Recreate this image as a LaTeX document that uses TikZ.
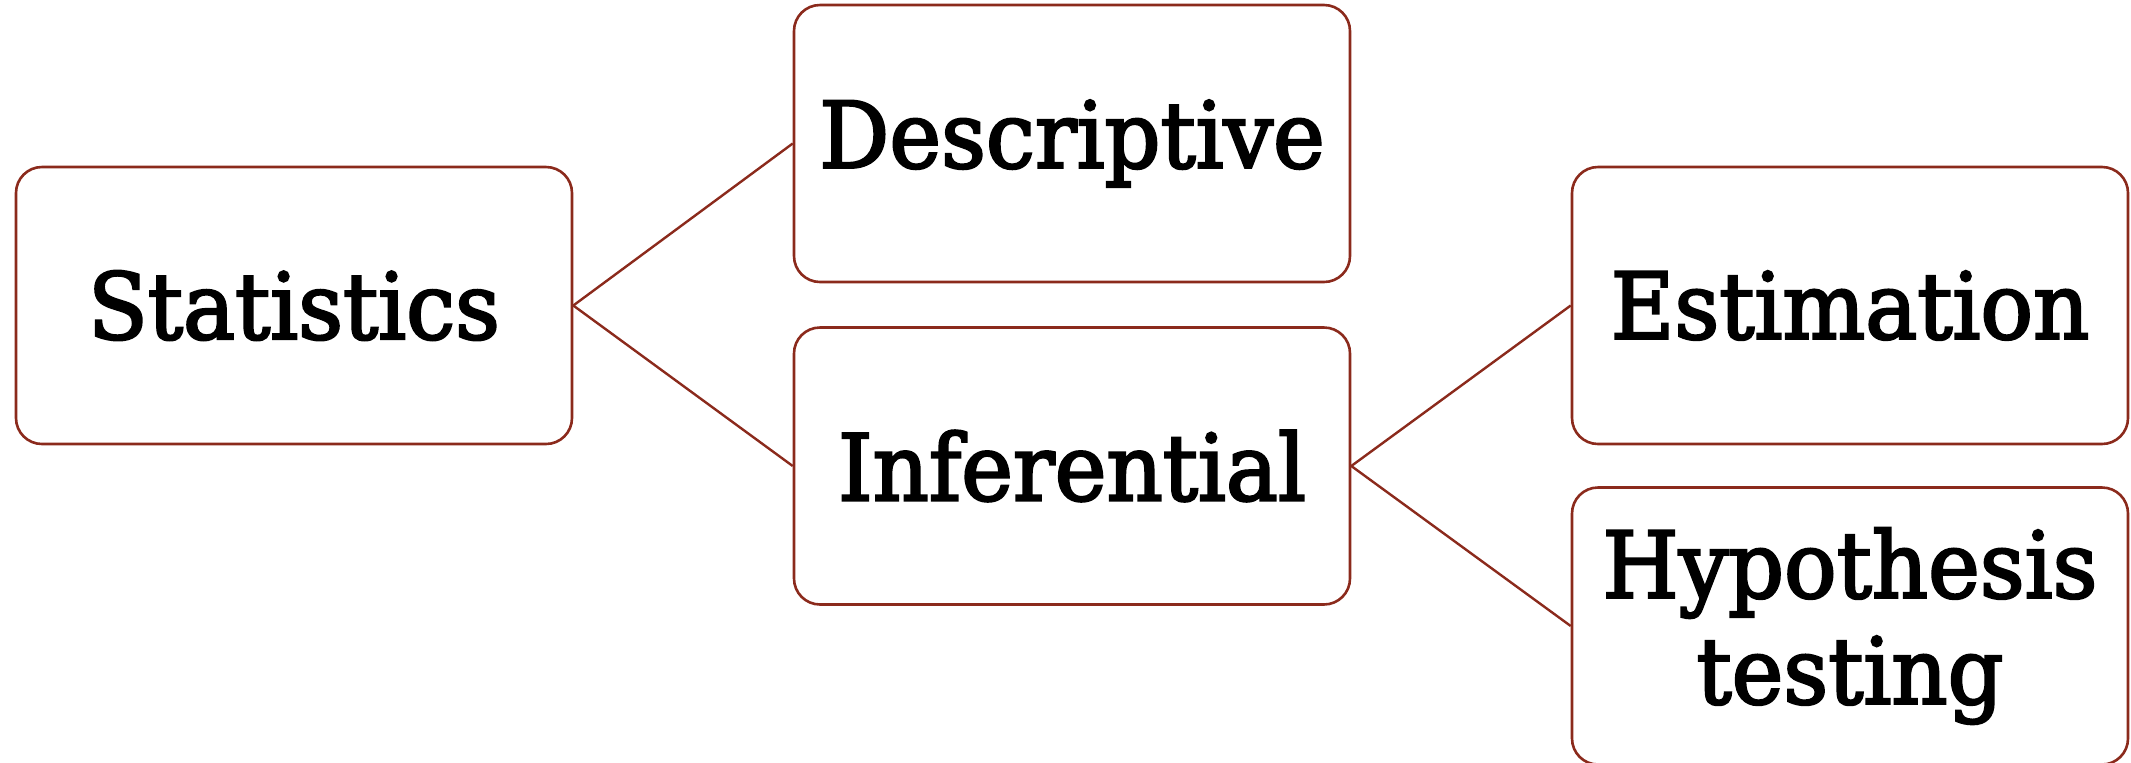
\documentclass[tikz,border=0pt]{standalone}
\usepackage{fontspec}
\setmainfont{DejaVu Serif}[FakeStretch=0.95,FakeBold=2.6]
\definecolor{edgered}{HTML}{8B2A1C}
\tikzset{
  box/.style={draw=edgered, line width=1.3pt, rounded corners=13pt,
    minimum width=278pt, minimum height=138.5pt, inner sep=0pt,
    align=center, font=\fontsize{46}{53}\selectfont, text=black},
  link/.style={draw=edgered, line width=1.2pt}
}
\begin{document}
\begin{tikzpicture}[x=0.5pt,y=-0.5pt]
\useasboundingbox (0,0) rectangle (2131,762);
\node[box] (stat) at (294,305.5) {Statistics};
\node[box] (desc) at (1072,143.5) {Descriptive};
\node[box] (infe) at (1072,466) {Inferential};
\node[box] (esti) at (1850,305.5) {Estimation};
\node[box] (hypo) at (1850,626) {Hypothesis\\testing};
\draw[link] (stat.east) -- (desc.west);
\draw[link] (stat.east) -- (infe.west);
\draw[link] (infe.east) -- (esti.west);
\draw[link] (infe.east) -- (hypo.west);
\end{tikzpicture}
\end{document}
